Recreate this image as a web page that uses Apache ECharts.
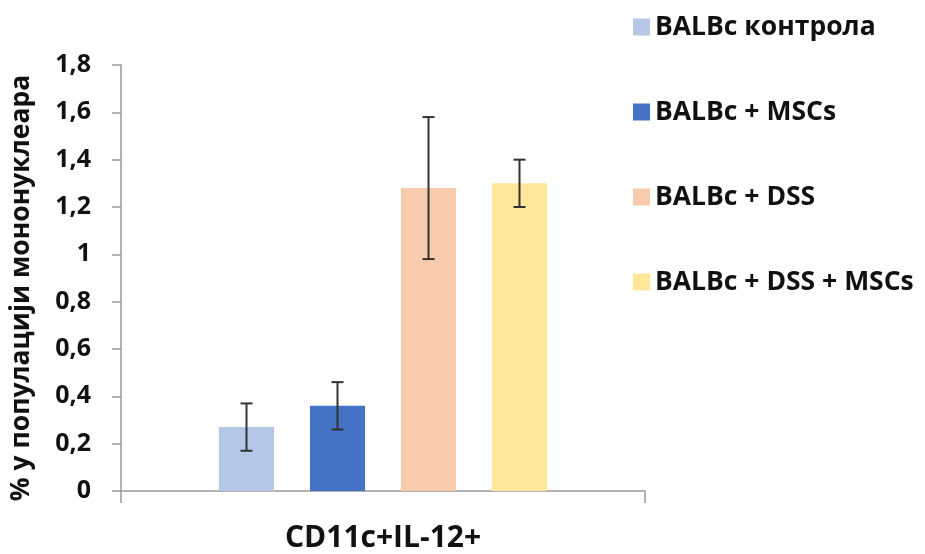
<!DOCTYPE html>
<html><head><meta charset="utf-8">
<script src="https://cdn.jsdelivr.net/npm/echarts@6/dist/echarts.min.js"></script>
<style>html,body{margin:0;padding:0;background:#fff}#c{width:925px;height:554px}</style>
</head><body><div id="c"></div>
<script>
var categories = ['CD11c+IL-12+'];
var seriesNames = ['BALBc контрола', 'BALBc + MSCs', 'BALBc + DSS', 'BALBc + DSS + MSCs'];
var seriesValues = [0.27, 0.36, 1.28, 1.30];
var errorValues = [0.10, 0.10, 0.30, 0.10];
var colors = ['#B4C7E7', '#4472C4', '#F8CBAD', '#FFE699'];
var yTicks = { min: 0, max: 1.8, interval: 0.2 };

var FONT = 'Open Sans';
var BAR_W = 55, BAR_GAP = 36;

var chart = echarts.init(document.getElementById('c'));
var series = seriesNames.map(function (n, i) {
  return {
    name: n, type: 'bar', data: [seriesValues[i]],
    barWidth: BAR_W, barGap: (BAR_GAP / BAR_W * 100) + '%',
    itemStyle: { color: colors[i] }
  };
});
seriesNames.forEach(function (n, i) {
  series.push({
    type: 'custom', name: n + ' err', z: 10, silent: true,
    data: [[0, seriesValues[i] - errorValues[i], seriesValues[i] + errorValues[i]]],
    renderItem: function (params, api) {
      var off = (i - (seriesNames.length - 1) / 2) * (BAR_W + BAR_GAP);
      var lo = api.coord([api.value(0), api.value(1)]);
      var hi = api.coord([api.value(0), api.value(2)]);
      var x = lo[0] + off, cap = 6;
      var st = { stroke: '#333', lineWidth: 2 };
      return { type: 'group', children: [
        { type: 'line', shape: { x1: x, y1: lo[1], x2: x, y2: hi[1] }, style: st },
        { type: 'line', shape: { x1: x - cap, y1: hi[1], x2: x + cap, y2: hi[1] }, style: st },
        { type: 'line', shape: { x1: x - cap, y1: lo[1], x2: x + cap, y2: lo[1] }, style: st }
      ] };
    }
  });
});

chart.setOption({
  animation: false,
  textStyle: { fontFamily: FONT },
  legend: {
    data: seriesNames, orient: 'vertical', left: 628, top: 8,
    itemWidth: 17, itemHeight: 17, itemGap: 57, icon: 'rect',
    textStyle: { fontFamily: FONT, fontWeight: 'bold', fontSize: 26.5, color: '#111', lineHeight: 28 }
  },
  grid: { left: 116, right: 280, top: 65, bottom: 63, containLabel: false },
  xAxis: {
    type: 'category', data: categories,
    axisLine: { lineStyle: { color: '#999', width: 1.5 } },
    axisTick: { show: true, length: 12, lineStyle: { color: '#999', width: 1.5 } },
    axisLabel: { fontFamily: FONT, fontWeight: 'bold', fontSize: 30, color: '#111', margin: 32 }
  },
  yAxis: {
    type: 'value', min: yTicks.min, max: yTicks.max, interval: yTicks.interval,
    name: '% у популацији мононуклеара', nameLocation: 'middle', nameGap: 86,
    nameTextStyle: { fontFamily: FONT, fontWeight: 'bold', fontSize: 26.5, color: '#111', padding: [0, 20, 0, 0] },
    axisLine: { show: true, lineStyle: { color: '#999', width: 1.5 } },
    axisTick: { show: true, length: 9, lineStyle: { color: '#999', width: 1.5 } },
    splitLine: { show: false },
    axisLabel: {
      fontFamily: FONT, fontWeight: 'bold', fontSize: 25, color: '#111', margin: 30,
      formatter: function (v) { return String(Math.round(v * 10) / 10).replace('.', ','); }
    }
  },
  series: series
});
</script></body></html>
